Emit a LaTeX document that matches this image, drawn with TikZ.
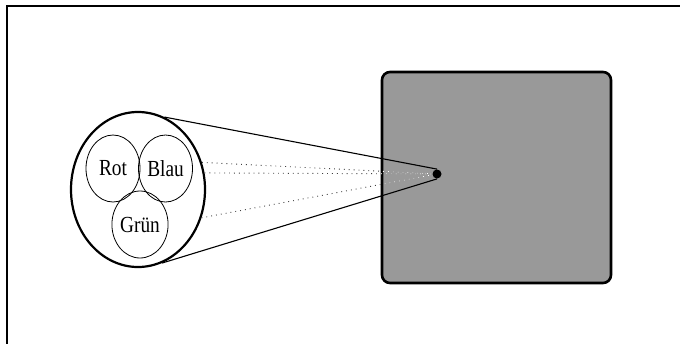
\documentclass[tikz,border=0pt]{standalone}
\usepackage{graphicx}
\usepackage{fontspec}
\setmainfont{Liberation Serif}
\usetikzlibrary{shapes.geometric, positioning}
\definecolor{screengray}{gray}{0.6}
\newcommand{\squeezed}[1]{\scalebox{0.84}[1]{#1}}
\tikzset{
    frame/.style={draw=black, line width=0.9pt},
    screen/.style={rectangle, draw=black, fill=screengray, line width=1.3pt, rounded corners=4pt, minimum width=114.5pt, minimum height=105.5pt, inner sep=0pt},
    lens/.style={ellipse, draw=black, line width=1.1pt, minimum width=67pt, minimum height=77.5pt, inner sep=0pt},
    farbe/.style={ellipse, draw=black, line width=0.4pt, minimum width=27pt, minimum height=33.5pt, inner sep=0pt, font=\fontsize{11.5}{13}\selectfont},
    pixel/.style={circle, fill=black, minimum size=4.5pt, inner sep=0pt},
    ray/.style={draw=black, line width=0.55pt},
    beam/.style={draw=black!75, line width=0.45pt, dotted}
}

\begin{document}
\begin{tikzpicture}[x=0.5pt, y=-0.5pt]
    \useasboundingbox (0,0) rectangle (680,343);
    \clip (0,0) rectangle (680,343);
    \draw [frame] (7,6) rectangle (700,360);

    \node (screen) [screen] at (496.5,177.5) {};
    \node (lens) [lens] at (138,189.5) {};
    \node (rot) [farbe] at (113,168.5) {\squeezed{Rot}};
    \node (blau) [farbe] at (165.5,168.5) {\squeezed{Blau}};
    \node (gruen) [farbe] at (140,224.5) {\squeezed{Grün}};
    \node (pixel) [pixel] at (437,174) {};

    \draw [ray] (lens.70) -- (pixel.north);
    \draw [ray] (lens.-72) -- (pixel.south);
    \draw [beam] (lens.23) -- (pixel);
    \draw [beam] (lens.14) -- (pixel);
    \draw [beam] (lens.-24) -- (pixel);

    % dotted lines show up light on the grey screen
    \begin{scope}
        \clip (screen.south west) rectangle (screen.north east);
        \draw [beam, draw=white] (lens.23) -- (pixel);
        \draw [beam, draw=white] (lens.14) -- (pixel);
        \draw [beam, draw=white] (lens.-24) -- (pixel);
    \end{scope}
\end{tikzpicture}
\end{document}
